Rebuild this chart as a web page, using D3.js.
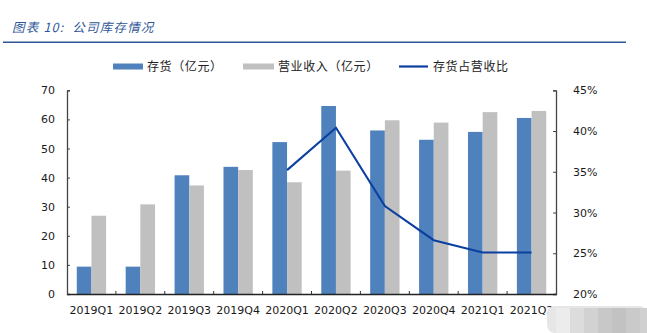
<!DOCTYPE html>
<html><head><meta charset="utf-8">
<script src="https://cdn.jsdelivr.net/npm/d3@7"></script>
<style>body{margin:0;background:#fff}svg{display:block}</style>
</head><body>
<script>
const categories = ["2019Q1","2019Q2","2019Q3","2019Q4","2020Q1","2020Q2","2020Q3","2020Q4","2021Q1","2021Q2"];
const inventory = [9.4, 9.4, 40.8, 43.7, 52.2, 64.6, 56.2, 53.0, 55.7, 60.5];
const revenue = [26.9, 30.8, 37.3, 42.6, 38.4, 42.4, 59.7, 58.9, 62.5, 62.9];
const ratio = [null, null, null, null, 35.2, 40.4, 30.8, 26.6, 25.1, 25.1];
const leftTicks = [0,10,20,30,40,50,60,70];
const rightTicks = [20,25,30,35,40,45];
const legendLabels = ["存货（亿元）","营业收入（亿元）","存货占营收比"];
const title = "图表 10:  公司库存情况";

const W = 647, H = 333;
const svg = d3.select("body").append("svg").attr("width", W).attr("height", H);
const L = 67, R = 556, T = 90.3, B = 294;
const cBlue = "#4F81BD", cGray = "#C0C0C0", cLine = "#0B3FA0";
const font = "'DejaVu Sans', Verdana, sans-serif";
const cjk = "'Noto Sans CJK SC', sans-serif";

// title
svg.append("text").attr("x", 12).attr("y", 32).text(title)
  .attr("font-family", cjk).attr("font-size", 12.5).attr("font-style", "italic")
  .attr("letter-spacing", 1.2).attr("xml:space", "preserve").style("white-space", "pre")
  .attr("fill", "#2F5597");
svg.append("line").attr("x1", 3).attr("x2", 626).attr("y1", 42.3).attr("y2", 42.3)
  .attr("stroke", "#2F5597").attr("stroke-width", 1.6);

const x = d3.scaleBand().domain(categories).range([L, R]).padding(0);
const yL = d3.scaleLinear().domain([0, 70]).range([B, T]);
const yR = d3.scaleLinear().domain([20, 45]).range([B, T]);
const bw = x.bandwidth() * 0.3, off = x.bandwidth() * 0.2;

// bars
svg.append("g").selectAll("rect").data(categories).join("rect")
  .attr("x", d => x(d) + off).attr("width", bw)
  .attr("y", (d,i) => yL(inventory[i])).attr("height", (d,i) => B - yL(inventory[i]))
  .attr("fill", cBlue);
svg.append("g").selectAll("rect").data(categories).join("rect")
  .attr("x", d => x(d) + off + bw).attr("width", bw)
  .attr("y", (d,i) => yL(revenue[i])).attr("height", (d,i) => B - yL(revenue[i]))
  .attr("fill", cGray);

// line
const pts = categories.map((c,i) => [c, ratio[i]]).filter(p => p[1] != null);
svg.append("path").datum(pts)
  .attr("d", d3.line().x(p => x(p[0]) + x.bandwidth()/2).y(p => yR(p[1])))
  .attr("fill", "none").attr("stroke", cLine).attr("stroke-width", 2.1);

// axes
const axL = svg.append("g").attr("transform", `translate(${L},0)`)
  .call(d3.axisLeft(yL).tickValues(leftTicks).tickSizeInner(-3).tickSizeOuter(-3).tickPadding(12));
const axR = svg.append("g").attr("transform", `translate(${R},0)`)
  .call(d3.axisRight(yR).tickValues(rightTicks).tickSizeInner(-3).tickSizeOuter(-3).tickPadding(17).tickFormat(d => d + "%"));
const axB = svg.append("g").attr("transform", `translate(0,${B})`)
  .call(d3.axisBottom(x).tickSize(0).tickPadding(12));
// category boundary ticks
svg.append("g").selectAll("line").data(categories.slice(1)).join("line")
  .attr("x1", d => x(d)).attr("x2", d => x(d)).attr("y1", B).attr("y2", B - 3)
  .attr("stroke", "#333").attr("stroke-width", 1);

[axL, axR, axB].forEach(a => {
  a.selectAll("text").attr("font-family", font).attr("font-size", 11).attr("fill", "#1a1a1a");
  a.select(".domain").attr("stroke", "#444").attr("stroke-width", 1.3);
  a.selectAll(".tick line").attr("stroke", "#444");
});
axB.select(".domain").attr("stroke", "#222");

// legend
const lg = svg.append("g").attr("font-family", cjk).attr("font-size", 12).attr("fill", "#222");
lg.append("rect").attr("x", 113).attr("y", 63.5).attr("width", 30).attr("height", 6).attr("fill", cBlue);
lg.append("text").attr("x", 147).attr("y", 71).attr("letter-spacing", 0.6).text(legendLabels[0]);
lg.append("rect").attr("x", 243).attr("y", 63.5).attr("width", 31).attr("height", 6).attr("fill", cGray);
lg.append("text").attr("x", 278).attr("y", 71).attr("letter-spacing", 0.6).text(legendLabels[1]);
lg.append("line").attr("x1", 399).attr("x2", 428).attr("y1", 66.5).attr("y2", 66.5).attr("stroke", cLine).attr("stroke-width", 2.2);
lg.append("text").attr("x", 433).attr("y", 71).attr("letter-spacing", 0.6).text(legendLabels[2]);

// mosaic watermark blob (bottom right)
const shades = ["#ececec","#dcdcdc","#d2d2d2","#c8c8c8","#c2c2c2","#cacaca","#d0d0d0"];
const wm = svg.append("g");
wm.append("rect").attr("x", 547).attr("y", 306).attr("width", 100).attr("height", 27).attr("rx", 8).attr("fill", "#e6e6e6");
shades.forEach((s,i) => {
  wm.append("rect").attr("x", 556 + i*14).attr("y", 308).attr("width", 14).attr("height", 25).attr("fill", s);
});
</script>
</body></html>
